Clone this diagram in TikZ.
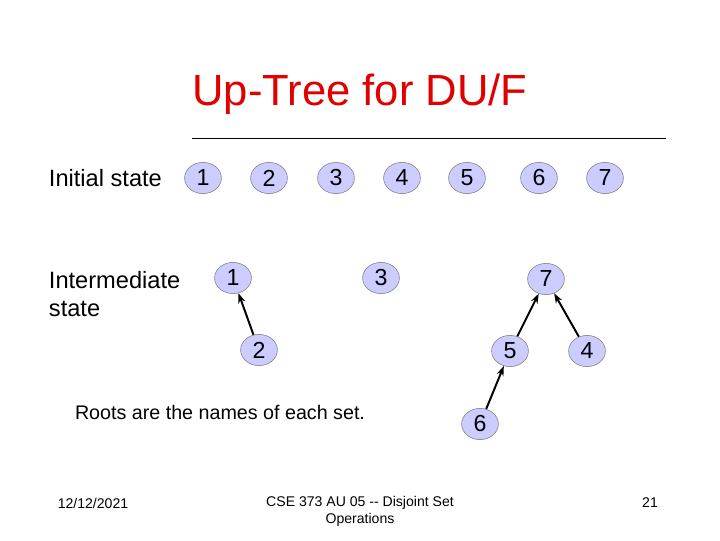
\documentclass[tikz,border=0pt]{standalone}
\usepackage{fontspec}
\setmainfont{Liberation Sans}
\usepackage{tikz}
\usetikzlibrary{arrows.meta, shapes.geometric}
\definecolor{titlered}{HTML}{E00000}
\definecolor{setfill}{HTML}{CCCCFF}
\definecolor{setline}{HTML}{808080}
\tikzset{
  set node/.style={
    ellipse,
    draw=setline,
    fill=setfill,
    minimum width=0.92cm,
    minimum height=0.78cm,
    inner sep=0pt,
    font=\fontsize{16.5}{18}\selectfont
  },
  up arrow/.style={
    -{Stealth[length=7pt, width=5pt]},
    line width=1.4pt,
    black
  }
}

\begin{document}
\begin{tikzpicture}[x=0.025cm, y=-0.025cm,
  label text/.style={anchor=west, align=left, font=\fontsize{16.8}{19.9}\selectfont},
  foot/.style={font=\fontsize{10}{12}\selectfont, align=center}]
  \useasboundingbox (0,0) rectangle (720,540);

  % Title
  \node[titlered, font=\fontsize{31}{34}\selectfont] (title) at (360, 94) {Up-Tree for DU/F};
  \coordinate (ruleL) at (192, 138);
  \coordinate (ruleR) at (666, 138);
  \draw[line width=0.6pt] (ruleL) -- (ruleR);

  % Initial state
  \node[label text] (initlbl) at (44, 178) {Initial state};
  \foreach \i/\x in {1/203, 2/269, 3/336, 4/402, 5/467, 6/539, 7/605}
    \node[set node] (a\i) at (\x, 178) {\i};

  % Intermediate state
  \node[label text] (interlbl) at (44, 294) {Intermediate\\state};
  \node[set node] (b1) at (233, 278) {1};
  \node[set node] (b3) at (381, 278) {3};
  \node[set node] (b7) at (546, 279) {7};
  \node[set node] (b2) at (259, 350) {2};
  \node[set node] (b5) at (510, 351) {5};
  \node[set node] (b4) at (587, 351) {4};
  \node[set node] (b6) at (480, 424) {6};

  \draw[up arrow] (b2) -- (b1);
  \draw[up arrow] (b5) -- (b7);
  \draw[up arrow] (b4) -- (b7);
  \draw[up arrow] (b6) -- (b5);

  \node[font=\fontsize{14}{16}\selectfont] (roots) at (220, 412) {Roots are the names of each set.};

  % Footer
  \node[foot] (date) at (93, 503) {12/12/2021};
  \node[foot] (course) at (360, 511) {CSE 373 AU 05 {-}{-} Disjoint Set\\Operations};
  \node[foot] (page) at (650, 503) {21};

\end{tikzpicture}
\end{document}
